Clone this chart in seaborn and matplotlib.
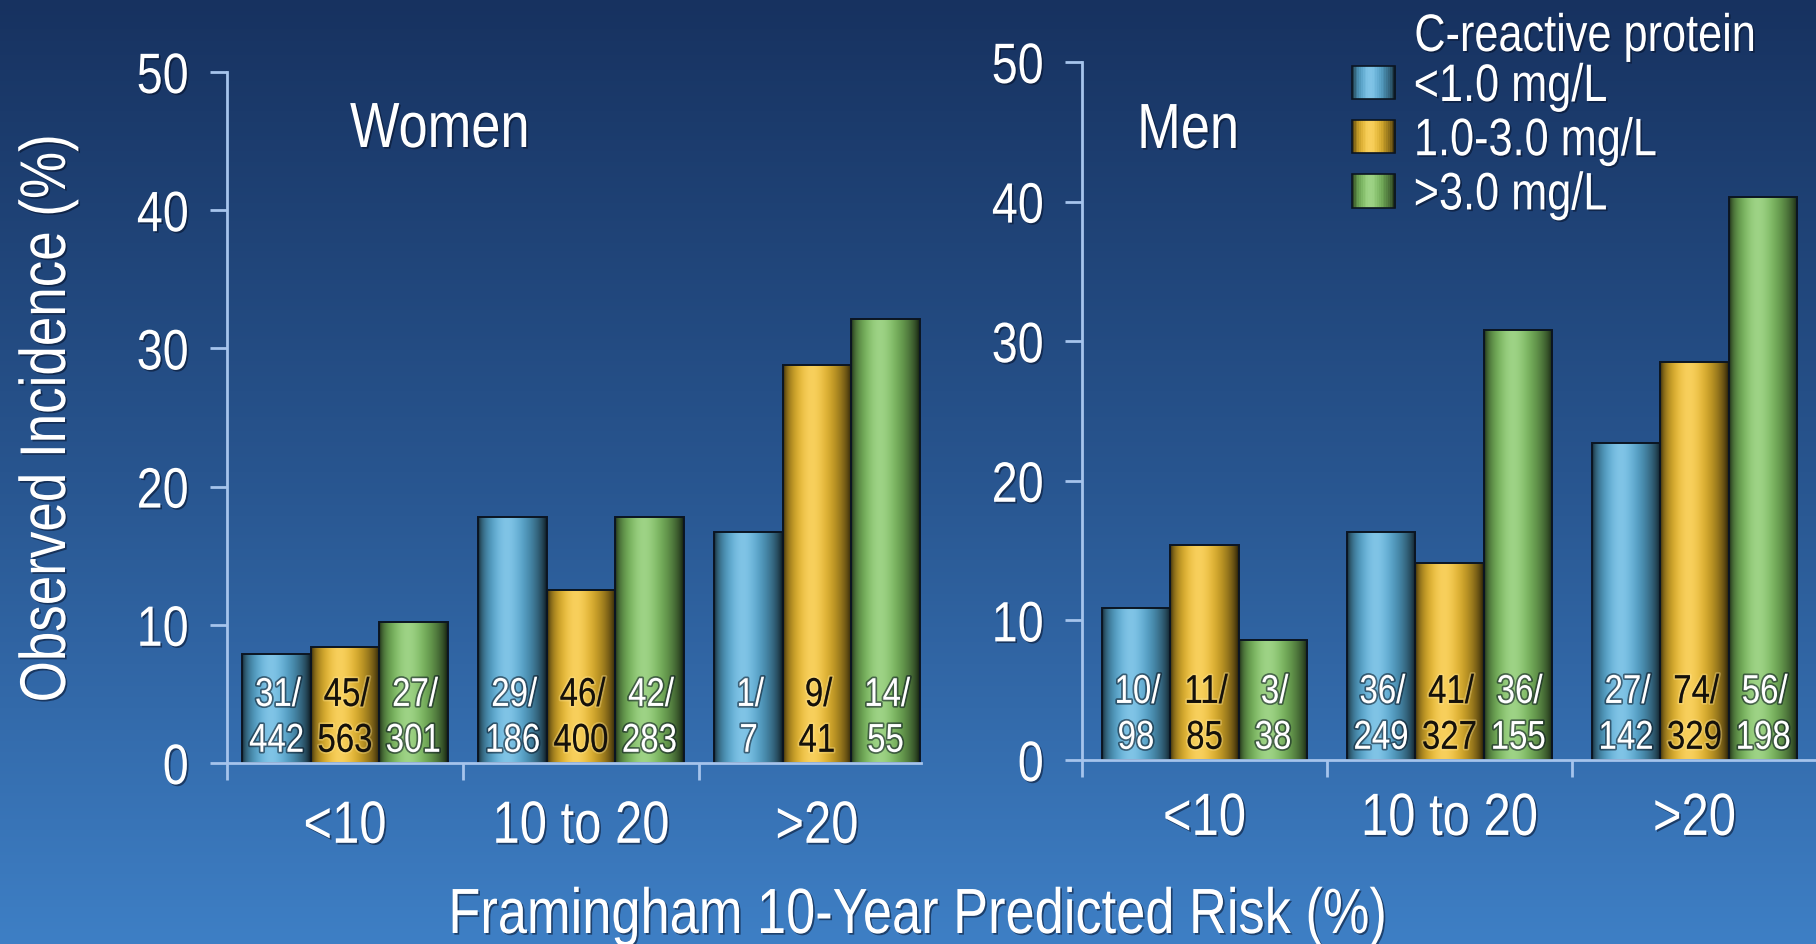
import numpy as np
import pandas as pd
import matplotlib
matplotlib.use("Agg")
import matplotlib.pyplot as plt
import matplotlib.patheffects as pe
from matplotlib.colors import to_rgb, LinearSegmentedColormap
from matplotlib.patches import Rectangle
from matplotlib.legend_handler import HandlerBase
from matplotlib.transforms import Affine2D
import seaborn as sns

# ---------------- data ----------------
categories = ["<10", "10 to 20", ">20"]
crp_levels = ["<1.0 mg/L", "1.0-3.0 mg/L", ">3.0 mg/L"]
crp_colors = ["#5cb3df", "#f6c22e", "#82c663"]

# observed incidence (%) by Framingham risk group, one list per CRP level
women_lt1 = [7.9, 17.8, 16.7]
women_1to3 = [8.4, 12.5, 28.8]
women_gt3 = [10.2, 17.8, 32.1]
men_lt1 = [10.9, 16.3, 22.7]
men_1to3 = [15.4, 14.1, 28.5]
men_gt3 = [8.6, 30.8, 40.3]

# events / participants
women_events_lt1 = [31, 29, 1]
women_events_1to3 = [45, 46, 9]
women_events_gt3 = [27, 42, 14]
women_n_lt1 = [442, 186, 7]
women_n_1to3 = [563, 400, 41]
women_n_gt3 = [301, 283, 55]
men_events_lt1 = [10, 36, 27]
men_events_1to3 = [11, 41, 74]
men_events_gt3 = [3, 36, 56]
men_n_lt1 = [98, 249, 142]
men_n_1to3 = [85, 327, 329]
men_n_gt3 = [38, 155, 198]

# ---------------- style ----------------
sns.set_theme(style="white")
plt.rcParams["font.family"] = ["Liberation Sans", "DejaVu Sans"]

W, H, DPI = 1816, 944, 100
SPINE = "#a6c4ec"
EDGE = "#0b1522"
NARROW = 0.82


class Condensed(pe.AbstractPathEffect):
    """Draw text squeezed horizontally (narrow face), keeping its anchor fixed."""

    def __init__(self, inner=None, anchor="center", sx=NARROW):
        super().__init__()
        self.inner, self.anchor, self.sx = inner, anchor, sx

    def draw_path(self, renderer, gc, tpath, affine, rgbFace=None):
        ext = tpath.get_extents()
        cx = {"left": ext.x0, "right": ext.x1}.get(self.anchor, 0.5 * (ext.x0 + ext.x1))
        squeeze = Affine2D().translate(-cx, 0).scale(self.sx, 1).translate(cx, 0) + affine
        if self.inner is None:
            renderer.draw_path(gc, tpath, squeeze, rgbFace)
        else:
            self.inner.draw_path(renderer, gc, tpath, squeeze, rgbFace)


def shadow_fx(anchor="center"):
    return [Condensed(pe.withSimplePatchShadow(offset=(1.2, -1.2),
                                               shadow_rgbFace=(0.02, 0.06, 0.15),
                                               alpha=0.55), anchor)]


def outline_fx(color, anchor="center"):
    return [Condensed(pe.withStroke(linewidth=2.5, foreground=color), anchor)]


def fx(px):
    return px / W


def fy(py):
    return 1 - py / H


def shade(base, t):
    """Cylinder-like horizontal shading across a bar (t from 0 at left to 1 at right)."""
    t = np.clip(np.asarray(t, dtype=float), 0, 1)
    s = np.sin(np.pi * t ** 0.8) ** 0.6
    rgb = np.array(to_rgb(base))
    col = rgb[None, :] * (0.08 + 0.92 * s)[:, None] + (1 - rgb)[None, :] * (0.22 * s ** 10)[:, None]
    return np.clip(col, 0, 1)


class GradientHandler(HandlerBase):
    def create_artists(self, legend, orig_handle, xdescent, ydescent,
                       width, height, fontsize, trans):
        base = orig_handle.get_facecolor()
        n = 24
        cols = shade(base, (np.arange(n) + 0.5) / n)
        arts = []
        for i in range(n):
            arts.append(Rectangle((-xdescent + i * width / n, -ydescent), width / n + 0.4, height,
                                  facecolor=cols[i], edgecolor="none", transform=trans))
        arts.append(Rectangle((-xdescent, -ydescent), width, height, facecolor="none",
                              edgecolor=EDGE, lw=1.2, transform=trans))
        return arts


fig = plt.figure(figsize=(W / DPI, H / DPI), dpi=DPI)

# slide background gradient
bg = fig.add_axes([0, 0, 1, 1], zorder=-10)
bg.set_axis_off()
bg_cmap = LinearSegmentedColormap.from_list("slide", ["#173260", "#28558f", "#3e7fc5"])
bg.imshow(np.linspace(0, 1, 256)[:, None], aspect="auto", cmap=bg_cmap,
          extent=[0, 1, 0, 1], origin="upper")


def draw_panel(ax, values, events, totals, bar_width, label_pad, spine_end):
    df = pd.DataFrame({
        "risk": np.repeat([categories], len(crp_levels), axis=0).ravel(),
        "crp": np.repeat(crp_levels, len(categories)),
        "incidence": np.concatenate(values),
    })
    sns.barplot(data=df, x="risk", y="incidence", hue="crp", order=categories,
                hue_order=crp_levels, palette=crp_colors, width=bar_width,
                saturation=1, errorbar=None, legend=False, ax=ax,
                edgecolor=EDGE, linewidth=1.4)

    for lvl, container in enumerate(ax.containers):
        base = crp_colors[lvl]
        img = shade(base, np.linspace(0, 1, 200))[None, :, :]
        if lvl == 1:
            txt_color, txt_fx = "#15110a", outline_fx((1, 0.9, 0.6, 0.35))
        else:
            txt_color, txt_fx = "white", outline_fx((0.03, 0.07, 0.12, 0.55))
        for j, bar in enumerate(container):
            x0, w, h = bar.get_x(), bar.get_width(), bar.get_height()
            im = ax.imshow(img, extent=[x0, x0 + w, 0, h], aspect="auto",
                           interpolation="bilinear", zorder=bar.get_zorder() + 0.1)
            im.set_clip_path(bar)
            bar.set_facecolor("none")
            bar.set_zorder(bar.get_zorder() + 0.2)
            xc = x0 + w / 2
            ax.annotate(f"{events[lvl][j]}/", xy=(xc, 0), xytext=(1, 49),
                        textcoords="offset points", ha="center", va="center",
                        fontsize=29, color=txt_color, path_effects=txt_fx, zorder=5)
            ax.annotate(f"{totals[lvl][j]}", xy=(xc, 0), xytext=(0, 16),
                        textcoords="offset points", ha="center", va="center",
                        fontsize=29, color=txt_color, path_effects=txt_fx, zorder=5)

    ax.set_xlim(-0.5, 2.5)
    ax.set_ylim(0, 50)
    ax.patch.set_alpha(0)
    ax.grid(False)
    for side in ("top", "right"):
        ax.spines[side].set_visible(False)
    for side in ("left", "bottom"):
        ax.spines[side].set_color(SPINE)
        ax.spines[side].set_linewidth(2)
    ax.spines["bottom"].set_bounds(-0.5, spine_end)
    ax.set_yticks(range(0, 51, 10))
    ax.tick_params(axis="y", left=True, direction="out", length=12.2, width=2,
                   color=SPINE, labelsize=41, labelcolor="white", pad=15)
    ax.set_xticks([0, 1, 2])
    ax.set_xticklabels(categories)
    ax.set_xticks([-0.5, 0.5, 1.5], minor=True)
    ax.tick_params(axis="x", which="major", bottom=False, length=0,
                   labelsize=43, labelcolor="white", pad=label_pad)
    ax.tick_params(axis="x", which="minor", bottom=True, direction="out",
                   length=12.2, width=2, color=SPINE)
    ax.set_xlabel("")
    ax.set_ylabel("")
    for lab in ax.get_xticklabels():
        lab.set_path_effects(shadow_fx("center"))
    for lab in ax.get_yticklabels():
        lab.set_path_effects(shadow_fx("right"))


ax_w = fig.add_axes([fx(227), fy(763), fx(935 - 227), (763 - 72) / H])
ax_m = fig.add_axes([fx(1082), fy(760), fx(1817 - 1082), (760 - 62) / H])

draw_panel(ax_w, [women_lt1, women_1to3, women_gt3],
           [women_events_lt1, women_events_1to3, women_events_gt3],
           [women_n_lt1, women_n_1to3, women_n_gt3],
           bar_width=0.87, label_pad=26.5, spine_end=2.44)
draw_panel(ax_m, [men_lt1, men_1to3, men_gt3],
           [men_events_lt1, men_events_1to3, men_events_gt3],
           [men_n_lt1, men_n_1to3, men_n_gt3],
           bar_width=0.84, label_pad=23, spine_end=2.5)

# panel titles and axis titles
fig.text(fx(440), fy(147), "Women", ha="center", va="baseline", fontsize=46,
         color="white", path_effects=shadow_fx())
fig.text(fx(1188), fy(148), "Men", ha="center", va="baseline", fontsize=46,
         color="white", path_effects=shadow_fx())
fig.text(fx(48), fy(418), "Observed Incidence (%)", rotation=90, ha="center",
         va="center", fontsize=46.5, color="white", path_effects=shadow_fx())
fig.text(fx(917), fy(933), "Framingham 10-Year Predicted Risk (%)", ha="center",
         va="baseline", fontsize=46, color="white", path_effects=shadow_fx())

# legend
fig.text(fx(1585), fy(51), "C-reactive protein", ha="center", va="baseline",
         fontsize=38, color="white", path_effects=shadow_fx("center"))
handles = [Rectangle((0, 0), 1, 1, facecolor=c) for c in crp_colors]
leg = fig.legend(handles, crp_levels, handler_map={Rectangle: GradientHandler()},
                 loc="upper left", bbox_to_anchor=(fx(1352), fy(62)),
                 bbox_transform=fig.transFigure, frameon=False, fontsize=38,
                 labelcolor="white", handlelength=0.82, handleheight=0.6,
                 handletextpad=0.34, labelspacing=0.08, borderpad=0,
                 borderaxespad=0)
for t in leg.get_texts():
    t.set_path_effects(shadow_fx("left"))

fig.savefig("out.png", dpi=DPI)
